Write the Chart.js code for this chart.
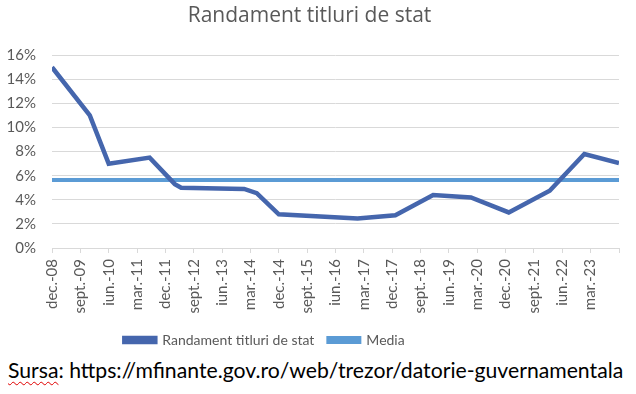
<!DOCTYPE html>
<html>
<head>
<meta charset="utf-8">
<script src="https://cdn.jsdelivr.net/npm/chart.js@4"></script>
<style>
  html, body { margin: 0; padding: 0; background: #fff; }
  #wrap { position: relative; width: 636px; height: 394px; }
  #chart { position: absolute; left: 0; top: 0; }
  #source {
    position: absolute; left: 8px; top: 357px;
    font-family: Lato, sans-serif; font-size: 21.2px; color: #000; white-space: nowrap;
  }
  #source .spell { text-decoration: underline wavy #e00000; text-decoration-thickness: 1px; text-underline-offset: 3px; }
</style>
</head>
<body>
<div id="wrap">
  <canvas id="chart" width="636" height="357"></canvas>
  <div id="source"><span class="spell">Sursa</span>: https://mfinante.gov.ro/web/trezor/datorie-guvernamentala</div>
</div>
<script>
// x axis labels, one every 9 months starting dec. 2008
const tickLabels = ['dec.-08', 'sept.-09', 'iun.-10', 'mar.-11', 'dec.-11', 'sept.-12', 'iun.-13',
  'mar.-14', 'dec.-14', 'sept.-15', 'iun.-16', 'mar.-17', 'dec.-17', 'sept.-18', 'iun.-19',
  'mar.-20', 'dec.-20', 'sept.-21', 'iun.-22', 'mar.-23'];

// observation dates and yields (%)
const dates = ['2008-12', '2009-12', '2010-06', '2011-07', '2012-03', '2012-05', '2014-01',
  '2014-05', '2014-12', '2017-01', '2018-01', '2019-01', '2020-01', '2021-01', '2022-02',
  '2023-01', '2023-12'];
const randament = [15.0, 11.0, 7.0, 7.5, 5.3, 5.0, 4.9, 4.55, 2.8, 2.45, 2.72, 4.4, 4.2, 2.95,
  4.75, 7.8, 7.05];

// average line, drawn across the whole period
const mediaDates = ['2008-12', '2023-12'];
const media = [5.64, 5.64];

const start = { y: 2008, m: 12 };
function monthIndex(d) {
  const [y, m] = d.split('-').map(Number);
  return (y - start.y) * 12 + (m - start.m);
}

const grey = '#595959';
const gridColor = '#d9d9d9';
const fontFamily = 'Lato, sans-serif';

// legend in the original sits left of centre
const legendShift = {
  id: 'legendShift',
  afterLayout(chart) {
    chart.legend.right -= 90;
  }
};

new Chart(document.getElementById('chart'), {
  type: 'line',
  data: {
    datasets: [
      {
        label: 'Randament titluri de stat',
        data: dates.map((d, i) => ({ x: monthIndex(d), y: randament[i] })),
        borderColor: '#4566ad',
        backgroundColor: '#4566ad',
        borderWidth: 4.5,
        pointRadius: 0,
        tension: 0
      },
      {
        label: 'Media',
        data: mediaDates.map((d, i) => ({ x: monthIndex(d), y: media[i] })),
        borderColor: '#5b9bd5',
        backgroundColor: '#5b9bd5',
        borderWidth: 4,
        pointRadius: 0
      }
    ]
  },
  plugins: [legendShift],
  options: {
    responsive: false,
    animation: false,
    layout: { padding: { left: 0, right: 17, top: 0, bottom: 0 } },
    plugins: {
      title: {
        display: true,
        text: 'Randament titluri de stat',
        color: grey,
        font: { family: 'Open Sans, sans-serif', size: 21, weight: 'normal' },
        padding: { top: 3, bottom: 27 }
      },
      legend: {
        position: 'bottom',
        labels: {
          color: grey,
          font: { family: fontFamily, size: 14 },
          boxWidth: 31,
          boxHeight: 4,
          padding: 14
        }
      },
      tooltip: { enabled: false }
    },
    scales: {
      x: {
        type: 'linear',
        min: 0,
        max: 180,
        afterFit: s => { s.height = 71; s.paddingLeft = 0; s.paddingRight = 0; },
        grid: { drawOnChartArea: false, drawTicks: true, tickLength: 5, color: gridColor },
        border: { color: gridColor },
        ticks: {
          stepSize: 9,
          autoSkip: false,
          minRotation: 90,
          maxRotation: 90,
          padding: 6,
          color: grey,
          font: { family: fontFamily, size: 15 },
          callback: v => tickLabels[v / 9] || ''
        }
      },
      y: {
        min: 0,
        max: 16,
        afterFit: s => { s.width = 52; },
        grid: { color: gridColor, drawTicks: false },
        border: { display: false },
        ticks: {
          stepSize: 2,
          padding: 16,
          color: grey,
          font: { family: fontFamily, size: 15 },
          callback: v => v + '%'
        }
      }
    }
  }
});
</script>
</body>
</html>
